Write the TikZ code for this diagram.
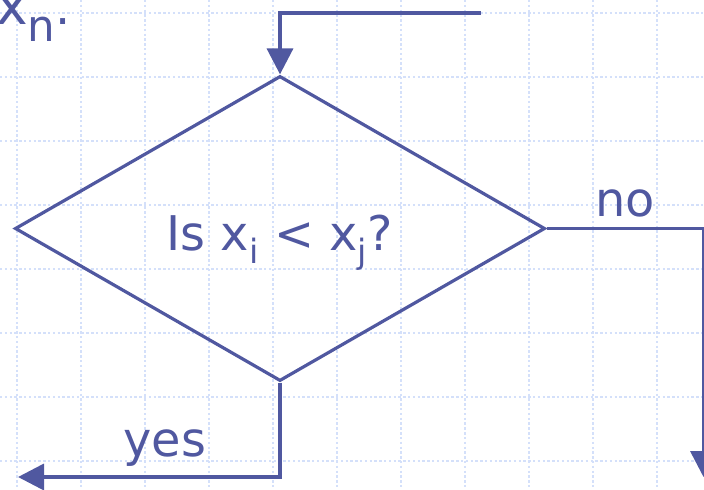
\documentclass[tikz,border=0pt]{standalone}
\usepackage{fontspec}
\setmainfont{DejaVu Sans}
\usetikzlibrary{arrows.meta,positioning,shapes.geometric}
\definecolor{flowblue}{RGB}{80,88,160}
\definecolor{gridblue}{RGB}{212,224,250}

\begin{document}
\begin{tikzpicture}[x=0.025cm, y=-0.025cm,
        every node/.style={font=\fontsize{34}{38}\selectfont, text=flowblue},
        flow/.style={line width=0.09cm, flowblue},
        tip/.style={-{Triangle[width=0.65cm,length=0.65cm]}},
        decision/.style={diamond, draw=flowblue, line width=0.08cm, minimum width=13.25cm, minimum height=7.625cm,
          inner sep=0pt, text height=1.075cm, text depth=0pt},
        gridline/.style={gridblue, line width=0.04cm, dash pattern=on 0.06cm off 0.06cm}
      ]
        % Feste Bounding-Box
        \useasboundingbox (0,0) rectangle (704,489);

        % Raster
        \foreach \gx in {17,81,...,657} {\draw[gridline] (\gx,0) -- (\gx,489);}
        \foreach \gy in {13,77,...,461} {\draw[gridline] (0,\gy) -- (704,\gy);}

        % Entscheidung
        \node[decision] (q) at (280,228.5) {Is x\textsubscript{i} < x\textsubscript{j}?};

        % Endpunkte
        \coordinate (entry) at (481,13);
        \coordinate (noend) at (703.5,477);
        \coordinate (yesend) at (18,477);

        % Pfeile
        \draw[flow,tip] (entry) -| (q.north);
        \draw[flow,tip] (q.east) -| (noend);
        \draw[flow,tip] (q.south) |- (yesend);

        % Beschriftungen
        \node[anchor=base] (nolbl) at (625,216) {no};
        \node[anchor=base] (yeslbl) at (165,456) {yes};
        \node[anchor=base west, inner sep=0pt] (xn) at (-4,24) {{\fontsize{38}{40}\selectfont x}\raisebox{-0.425cm}{\fontsize{31}{32}\selectfont n}.};
      \end{tikzpicture}
\end{document}
